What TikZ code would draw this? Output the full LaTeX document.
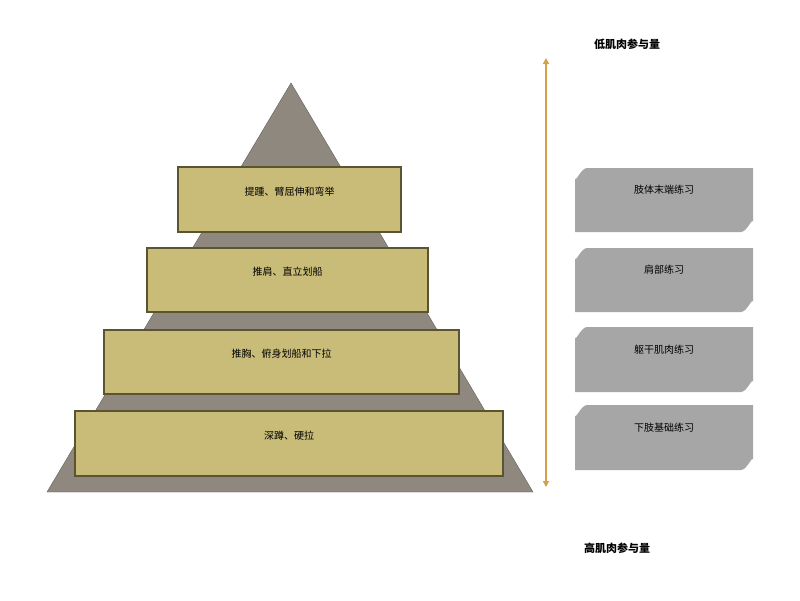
\documentclass[tikz,border=0pt]{standalone}
\usepackage{fontspec}
\usetikzlibrary{arrows.meta}
\newfontfamily\cjk{Noto Sans CJK SC}
\definecolor{olive}{HTML}{C8BC78}
\definecolor{oliveedge}{HTML}{5A5430}
\definecolor{tri}{HTML}{8E887E}
\definecolor{rbox}{HTML}{A6A6A6}
\definecolor{arr}{HTML}{D4A04A}
\begin{document}
\begin{tikzpicture}[x=1pt,y=-1pt,
  tier/.style={draw=oliveedge,line width=1.5pt,fill=olive},
  lbl/.style={font=\cjk\fontsize{11}{13}\selectfont\bfseries}]
\useasboundingbox (0,0) rectangle (800,600);
\fill[white] (0,0) rectangle (800,600);
\fill[tri,draw=tri!70!black] (291,83) -- (533,492) -- (47,492) -- cycle;
\foreach \n/\a/\b/\c/\d/\t in {t1/178/167/401/232/{提踵、臂屈伸和弯举},t2/147/248/428/312/{推肩、直立划船},t3/104/330/459/394/{推胸、俯身划船和下拉},t4/75/411/503/476/{深蹲、硬拉}}{
  \draw[tier] (\a,\b) rectangle (\c,\d);
  \node[font=\cjk\fontsize{10}{12}\selectfont] (\n) at ({(\a+\c)/2},{(\b+\d)/2-8}) {\t};
}
\foreach \n/\b/\d/\t in {s1/168/232/{肢体末端练习},s2/248/312/{肩部练习},s3/327/392/{躯干肌肉练习},s4/405/470/{下肢基础练习}}{
  \fill[rbox] (575,\d) -- (575,{\b+10}) to[out=-90,in=180] (587,\b) -- (753,\b) -- (753,{\d-10}) to[out=90,in=0] (741,\d) -- cycle;
  \node[font=\cjk\fontsize{10}{12}\selectfont] (\n) at (664,{(\b+\d)/2-10}) {\t};
}
\node[lbl] (low) at (627,44) {低肌肉参与量};
\node[lbl] (high) at (617,548) {高肌肉参与量};
\coordinate (atop) at (546,58);
\coordinate (abot) at (546,487);
\draw[arr,line width=1.5pt,{Triangle[length=6pt,width=6pt]}-{Triangle[length=6pt,width=6pt]}] (atop) -- (abot);
\end{tikzpicture}
\end{document}
